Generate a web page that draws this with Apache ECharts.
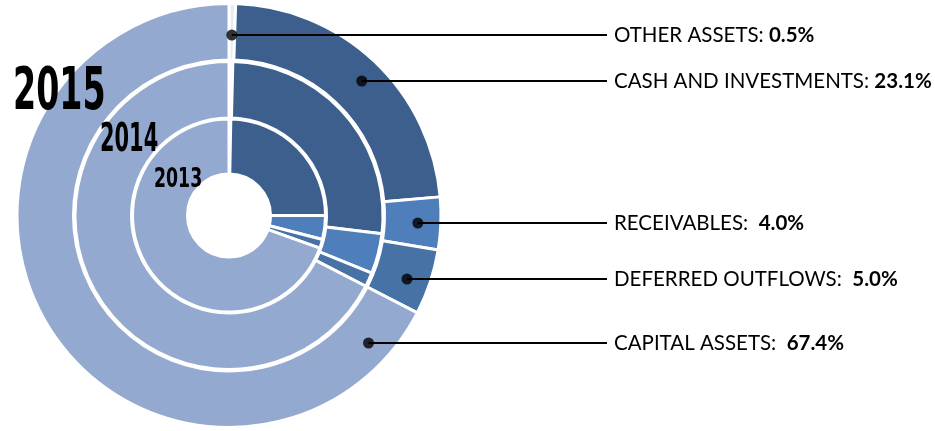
<!DOCTYPE html>
<html>
<head>
<meta charset="utf-8">
<script src="https://cdn.jsdelivr.net/npm/echarts@6/dist/echarts.min.js"></script>
<style>
  html, body { margin: 0; padding: 0; background: #fff; }
  #mainchart { width: 935px; height: 431px; }
</style>
</head>
<body>
<div id="mainchart"></div>
<script>
// share of total assets, clockwise from 12 o'clock
var categories = ['OTHER ASSETS', 'CASH AND INVESTMENTS', 'RECEIVABLES', 'DEFERRED OUTFLOWS', 'CAPITAL ASSETS'];
var years = ['2013', '2014', '2015'];
var share2013 = [0.3, 24.7, 4.0, 1.5, 69.5];
var share2014 = [0.4, 26.5, 4.2, 1.5, 67.4];
var share2015 = [0.5, 23.1, 4.0, 5.0, 67.4];

var colors = ['#e4ebf5', '#3c5f8e', '#4e7fbb', '#4672a6', '#94a9cf'];

var cx = 229, cy = 215.5;
var labelY = [35, 81, 223, 279, 343];
var labelX = 614, lineEndX = 607, dotR = 189;

function sum(arr, n) {
    var s = 0;
    for (var i = 0; i < n; i++) s += arr[i];
    return s;
}

// where the leader line leaves the outer ring
function anchorAt(i) {
    var tot = sum(share2015, share2015.length);
    var a0 = sum(share2015, i) / tot * 360;
    var a1 = a0 + share2015[i] / tot * 360;
    var dy = cy - labelY[i];
    var a = Math.acos(Math.max(-1, Math.min(1, dy / dotR))) * 180 / Math.PI;
    if (a >= a0 && a <= a1) return [cx + Math.sqrt(dotR * dotR - dy * dy), labelY[i]];
    var m = (a0 + a1) / 2 * Math.PI / 180;
    return [cx + dy * Math.tan(m), labelY[i]];
}

function ringData(values) {
    return values.map(function (v, i) {
        return { name: categories[i], value: v, itemStyle: { color: colors[i] } };
    });
}

var dots = categories.map(function (c, i) {
    var p = anchorAt(i);
    var dx = p[0] - cx, dy = cy - p[1];
    return [Math.sqrt(dx * dx + dy * dy), Math.atan2(dx, dy) * 180 / Math.PI];
});

var ringStyle = { borderColor: '#fff', borderWidth: 3 };
var yearFont = '"Liberation Sans Narrow", "DejaVu Sans Condensed", sans-serif';

var myChart = echarts.init(document.getElementById('mainchart'));

var option = {
    animation: false,
    polar: { center: [cx, cy], radius: 212 },
    radiusAxis: { type: 'value', min: 0, max: 212, show: false },
    angleAxis: { type: 'value', min: 0, max: 360, startAngle: 90, clockwise: true, show: false },
    graphic: [
        { type: 'text', z: 100, x: 13, y: 94, scaleX: 0.74, scaleY: 1.17, style: { text: years[2], font: 'bold 50px ' + yearFont, fill: '#000', verticalAlign: 'middle' } },
        { type: 'text', z: 100, x: 100, y: 140.5, scaleX: 0.75, scaleY: 1.26, style: { text: years[1], font: 'bold 31px ' + yearFont, fill: '#000', verticalAlign: 'middle' } },
        { type: 'text', z: 100, x: 154, y: 179.5, scaleX: 0.77, scaleY: 1.09, style: { text: years[0], font: 'bold 25px ' + yearFont, fill: '#000', verticalAlign: 'middle' } }
    ],
    series: [
        {
            name: years[0], type: 'pie', center: [cx, cy], radius: [41.5, 96.5],
            startAngle: 90, clockwise: true, silent: true,
            itemStyle: ringStyle, label: { show: false }, labelLine: { show: false },
            data: ringData(share2013)
        },
        {
            name: years[1], type: 'pie', center: [cx, cy], radius: [97.5, 154],
            startAngle: 90, clockwise: true, silent: true,
            itemStyle: ringStyle, label: { show: false }, labelLine: { show: false },
            data: ringData(share2014)
        },
        {
            name: years[2], type: 'pie', center: [cx, cy], radius: [155.5, 212],
            startAngle: 90, clockwise: true, silent: true,
            itemStyle: ringStyle, label: { show: false }, labelLine: { show: false },
            data: ringData(share2015)
        },
        {
            // transparent copy of the 2015 ring, only carries the callouts on top
            name: years[2] + ' labels', type: 'pie', center: [cx, cy], radius: [155.5, 212],
            startAngle: 90, clockwise: true, silent: true, avoidLabelOverlap: false, z: 4,
            itemStyle: { color: 'rgba(0,0,0,0)', borderWidth: 0 },
            label: {
                show: true,
                position: 'outside',
                formatter: function (p) {
                    var gap = p.dataIndex >= 2 ? ':  ' : ': ';
                    return '{n|' + p.name + gap + '}{b|' + p.value.toFixed(1) + '%}';
                },
                rich: {
                    n: { fontFamily: 'Lato', fontSize: 20.5, color: '#000' },
                    b: { fontFamily: 'Lato', fontSize: 20.5, fontWeight: 'bold', color: '#000' }
                }
            },
            labelLine: { show: true, lineStyle: { color: '#000', width: 2 } },
            labelLayout: function (params) {
                var p = anchorAt(params.dataIndex);
                return {
                    x: labelX, y: p[1], align: 'left', verticalAlign: 'middle',
                    labelLinePoints: [p, [lineEndX, p[1]], [lineEndX, p[1]]]
                };
            },
            data: share2015.map(function (v, i) { return { name: categories[i], value: v }; })
        },
        {
            type: 'scatter', coordinateSystem: 'polar', silent: true,
            symbolSize: 11, itemStyle: { color: '#000' }, z: 5,
            data: dots
        }
    ]
};

myChart.setOption(option);
</script>
</body>
</html>
